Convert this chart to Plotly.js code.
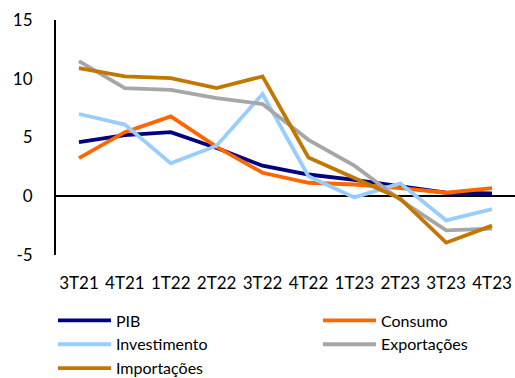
<!DOCTYPE html>
<html>
<head>
<meta charset="utf-8">
<script src="https://cdn.plot.ly/plotly-3.0.1.min.js"></script>
<style>
  html, body { margin: 0; padding: 0; background: #fff; }
  #chart { width: 515px; height: 378px; }
</style>
</head>
<body>
<div id="chart"></div>
<script>
// Quarterly growth, % year on year
const quarters = ['3T21', '4T21', '1T22', '2T22', '3T22', '4T22', '1T23', '2T23', '3T23', '4T23'];
const pib          = [4.6, 5.2, 5.45, 4.1, 2.6, 1.85, 1.4, 0.85, 0.3, 0.25];
const consumo      = [3.25, 5.45, 6.8, 4.2, 2.0, 1.15, 1.0, 0.7, 0.3, 0.7];
const investimento = [7.0, 6.1, 2.8, 4.3, 8.7, 1.7, -0.1, 1.1, -2.05, -1.1];
const exportacoes  = [11.5, 9.2, 9.05, 8.35, 7.85, 4.8, 2.6, -0.3, -2.9, -2.75];
const importacoes  = [10.9, 10.2, 10.05, 9.2, 10.2, 3.3, 1.55, -0.2, -3.95, -2.5];
const yTicks = [-5, 0, 5, 10, 15];

const FONT = 'Lato, "Open Sans", sans-serif';

// legendId picks the legend column the series is listed in
function series(name, values, color, legendId) {
  return {
    type: 'scatter',
    mode: 'lines',
    name: name,
    x: quarters,
    y: values,
    legend: legendId,
    line: { color: color, width: 3.8 },
    hoverinfo: 'skip'
  };
}

const traces = [
  series('PIB', pib, '#000080', 'legend'),
  series('Consumo', consumo, '#FF6600', 'legend2'),
  series('Investimento', investimento, '#99CCFF', 'legend'),
  series('Exportações', exportacoes, '#A6A6A6', 'legend2'),
  series('Importações', importacoes, '#C07800', 'legend')
];

// Wide entries make each horizontal legend wrap to one item per row,
// so each legend becomes a single column below the plot.
function legendColumn(x) {
  return {
    orientation: 'h',
    xref: 'container',
    yref: 'container',
    x: x,
    xanchor: 'left',
    y: 0.197,
    yanchor: 'top',
    entrywidth: 224,
    entrywidthmode: 'pixels',
    tracegroupgap: 0,
    itemwidth: 53,
    font: { family: FONT, size: 16, color: '#000' },
    bgcolor: 'rgba(0,0,0,0)'
  };
}

const layout = {
  width: 515,
  height: 378,
  margin: { l: 56, r: 0, t: 20, b: 123 },
  paper_bgcolor: '#fff',
  plot_bgcolor: '#fff',
  font: { family: FONT, size: 17, color: '#000' },
  showlegend: true,
  xaxis: {
    type: 'category',
    range: [-0.5, 9.5],
    showgrid: false,
    zeroline: false,
    showline: false,
    ticks: '',
    ticklabelstandoff: 16,
    tickfont: { family: FONT, size: 17, color: '#000' },
    fixedrange: true
  },
  yaxis: {
    range: [-5, 15],
    tickvals: yTicks,
    ticktext: yTicks.map(String),
    showgrid: false,
    zeroline: true,
    zerolinecolor: '#000',
    zerolinewidth: 2,
    showline: true,
    linecolor: '#000',
    linewidth: 2,
    ticks: '',
    ticklabelstandoff: 18,
    tickfont: { family: FONT, size: 17, color: '#000' },
    fixedrange: true
  },
  legend: legendColumn(53 / 515),
  legend2: legendColumn(318 / 515)
};

Plotly.newPlot('chart', traces, layout, { displayModeBar: false, staticPlot: true });
</script>
</body>
</html>
